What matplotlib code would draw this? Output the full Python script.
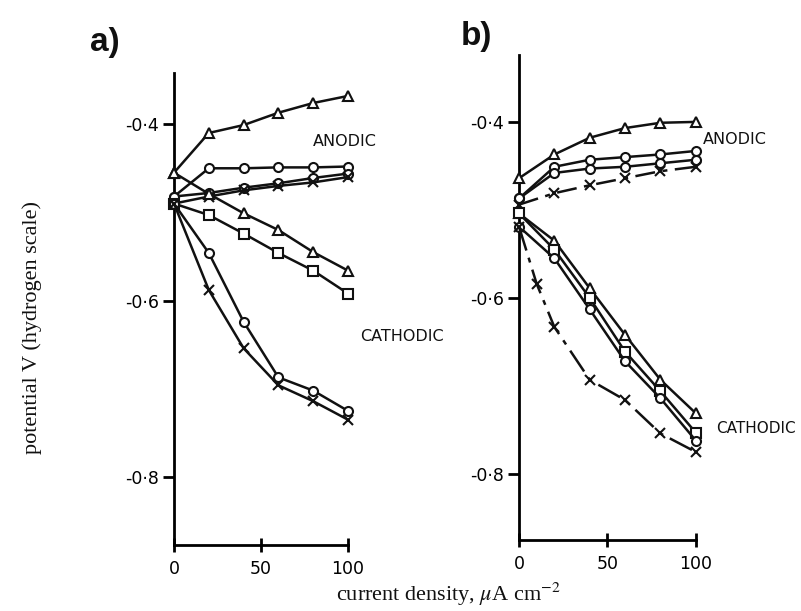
import matplotlib
matplotlib.use("Agg")
import matplotlib.pyplot as plt

plt.rcParams["mathtext.fontset"] = "stix"

# panel a) current density (uA cm-2) and potential (V, hydrogen scale)
cd_a = [0, 20, 40, 60, 80, 100]
a_an_tri = [-0.455, -0.410, -0.401, -0.387, -0.376, -0.368]
a_an_circ = [-0.482, -0.450, -0.450, -0.449, -0.449, -0.448]
a_an_sq = [-0.482, -0.478, -0.472, -0.467, -0.461, -0.456]
a_an_x = [-0.490, -0.482, -0.475, -0.470, -0.466, -0.460]
a_ca_tri = [-0.455, -0.479, -0.501, -0.520, -0.545, -0.566]
a_ca_sq = [-0.490, -0.503, -0.524, -0.546, -0.566, -0.592]
a_ca_circ = [-0.490, -0.546, -0.624, -0.687, -0.702, -0.725]
a_ca_x = [-0.490, -0.588, -0.654, -0.696, -0.714, -0.735]

# panel b)
cd_b = [0, 20, 40, 60, 80, 100]
cd_b_x = [0, 10, 20, 40, 60, 80, 100]
b_an_tri = [-0.464, -0.437, -0.418, -0.407, -0.401, -0.400]
b_an_circ = [-0.487, -0.451, -0.443, -0.440, -0.437, -0.433]
b_an_sq = [-0.487, -0.458, -0.453, -0.451, -0.447, -0.443]
b_an_x = [-0.494, -0.481, -0.472, -0.464, -0.456, -0.451]
b_ca_tri = [-0.504, -0.535, -0.589, -0.642, -0.693, -0.731]
b_ca_sq = [-0.504, -0.545, -0.600, -0.661, -0.706, -0.753]
b_ca_circ = [-0.519, -0.555, -0.613, -0.672, -0.714, -0.762]
b_ca_x = [-0.519, -0.584, -0.633, -0.693, -0.716, -0.754, -0.775]

yticks = [-0.4, -0.6, -0.8]
ytick_labels = ["-0·4", "-0·6", "-0·8"]
xticks = [0, 50, 100]

ink = "#111111"
fig = plt.figure(figsize=(8.01, 6.11), dpi=100)
fig.patch.set_facecolor("white")

ax_a = fig.add_axes([174 / 801, 66 / 611, 194.9 / 801, 472 / 611])
ax_b = fig.add_axes([519 / 801, 71 / 611, 198 / 801, 485 / 611])


def curve(ax, x, y, marker, ls="-"):
    ax.plot(x, y, color=ink, lw=1.8, ls=ls, marker=marker, ms=6.5,
            mfc="white", mec=ink, mew=1.5, clip_on=False, zorder=3)


def style(ax, ylo, yhi):
    ax.set_xlim(0, 112)
    ax.set_ylim(ylo, yhi)
    for s in ["top", "right"]:
        ax.spines[s].set_visible(False)
    ax.spines["left"].set_linewidth(2)
    ax.spines["bottom"].set_linewidth(2)
    ax.spines["bottom"].set_bounds(0, 100)
    ax.set_yticks(yticks)
    ax.set_yticklabels(ytick_labels, fontsize=12.5, fontfamily="DejaVu Sans")
    ax.set_xticks(xticks)
    ax.set_xticklabels([str(t) for t in xticks], fontsize=12.5,
                       fontfamily="DejaVu Sans")
    ax.tick_params(axis="y", direction="out", length=8, width=2, pad=3)
    ax.tick_params(axis="x", direction="inout", length=10, width=2, pad=6)
    ax.patch.set_alpha(0)


# panel a
curve(ax_a, cd_a, a_an_tri, "^")
curve(ax_a, cd_a, a_an_circ, "o")
curve(ax_a, cd_a, a_an_sq, "o")
curve(ax_a, cd_a, a_an_x, "x")
curve(ax_a, cd_a, a_ca_tri, "^")
curve(ax_a, cd_a, a_ca_sq, "s")
curve(ax_a, cd_a, a_ca_circ, "o")
curve(ax_a, cd_a, a_ca_x, "x")
style(ax_a, -0.877, -0.342)
ax_a.text(98, -0.420, "ANODIC", fontsize=11.5, ha="center", va="center",
          color=ink, clip_on=False)
ax_a.text(131, -0.641, "CATHODIC", fontsize=11.5, ha="center", va="center",
          color=ink, clip_on=False)

# panel b
curve(ax_b, cd_b, b_an_tri, "^")
curve(ax_b, cd_b, b_an_circ, "o")
curve(ax_b, cd_b, b_an_sq, "o")
curve(ax_b, cd_b, b_an_x, "x", ls=(0, (8, 3, 2, 3)))
curve(ax_b, cd_b, b_ca_tri, "^")
curve(ax_b, cd_b, b_ca_sq, "s")
curve(ax_b, cd_b, b_ca_circ, "o")
curve(ax_b, cd_b_x, b_ca_x, "x", ls=(0, (10, 3, 2, 3)))
style(ax_b, -0.875, -0.324)
ax_b.text(122, -0.4205, "ANODIC", fontsize=11.5, ha="center", va="center",
          color=ink, clip_on=False)
ax_b.text(111.5, -0.748, "CATHODIC", fontsize=11, ha="left", va="center",
          color=ink, clip_on=False)

fig.text(105 / 801, 1 - 42 / 611, "a)", fontsize=24, fontweight="bold",
         fontfamily="Liberation Sans", ha="center", va="center", color=ink)
fig.text(476 / 801, 1 - 36 / 611, "b)", fontsize=24, fontweight="bold",
         fontfamily="Liberation Sans", ha="center", va="center", color=ink)
fig.text(32 / 801, 1 - 328 / 611, "potential V (hydrogen scale)",
         rotation=90, fontsize=16, fontfamily="Liberation Serif",
         ha="center", va="center", color=ink)
fig.text(448 / 801, 1 - 594 / 611, r"current density, $\mu$A cm$^{-2}$",
         fontsize=16, fontfamily="Liberation Serif", ha="center",
         va="center", color=ink)

fig.savefig("out.png", dpi=100, facecolor="white")
